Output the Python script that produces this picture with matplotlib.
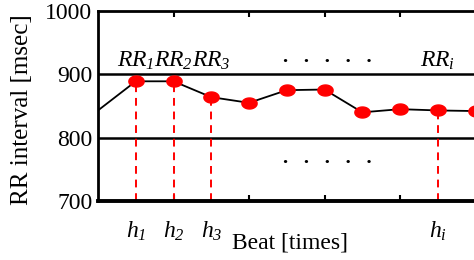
import numpy as np
import matplotlib
matplotlib.use("Agg")
import matplotlib.pyplot as plt

# data
beats = [0, 1, 2, 3, 4, 5, 6, 7, 8, 9, 10]
rr_values = [843, 889, 889, 864, 855, 875, 876, 840, 845, 843, 842]
marked_beats = [1, 2, 3, 9]          # beats with red dashed lines
rr_labels = ["$RR_{1}$", "$RR_{2}$", "$RR_{3}$", "$RR_{i}$"]
h_labels = ["$h_{1}$", "$h_{2}$", "$h_{3}$", "$h_{i}$"]
y_ticks = [700, 800, 900, 1000]

plt.rcParams["font.family"] = ["Liberation Serif"]
# all math text in this chart is italic, digits included
plt.rcParams["mathtext.fontset"] = "custom"
plt.rcParams["mathtext.rm"] = "Liberation Serif:italic"
plt.rcParams["mathtext.it"] = "Liberation Serif:italic"

W, H = 474, 260
fig = plt.figure(figsize=(W / 100, H / 100), dpi=100)
ax = fig.add_axes([98 / W, 59 / H, 376 / W, 190 / H])

ax.set_xlim(0, 376 / 37.75)
ax.set_ylim(700, 1000)

# horizontal reference lines
for yv in [800, 900]:
    ax.axhline(yv, color="black", lw=1.8, zorder=1)

# red dashed drop lines
for b in marked_beats:
    ax.plot([b, b], [700, rr_values[b]], color="red", ls=(0, (4, 3)), lw=1.4, zorder=2)

# ellipse marker
t = np.linspace(0, 2 * np.pi, 40)
ell = list(zip(np.cos(t), 0.72 * np.sin(t)))
ax.plot(beats, rr_values, color="black", lw=1.3, zorder=3)
ax.plot(beats[1:], rr_values[1:], ls="none", marker=ell, markersize=11,
        color="red", markeredgecolor="red", zorder=4)

# spines
ax.spines["right"].set_visible(False)
ax.spines["top"].set_linewidth(2)
ax.spines["left"].set_linewidth(2)
ax.spines["bottom"].set_linewidth(2.8)

ax.set_yticks(y_ticks)
ax.set_yticklabels([str(v) for v in y_ticks], fontsize=17)
ax.tick_params(axis="y", length=0, pad=4)
ax.set_xticks([2, 4, 6, 8])
ax.set_xticklabels([])
ax.tick_params(axis="x", direction="in", length=4, width=1.5, top=True, bottom=True)

# RR labels above the 900 line
for b, lab in zip(marked_beats, rr_labels):
    ax.text(b, 903, lab, fontsize=17, ha="center", va="bottom")

# h labels below the axis
for b, lab in zip(marked_beats, h_labels):
    ax.text(b, -0.16, lab, fontsize=17, ha="center", va="center",
            transform=ax.get_xaxis_transform(), clip_on=False)

# dotted ellipsis
for yv in [928, 768]:
    ax.text(6.07, yv, ".   .   .   .   .", fontsize=15, fontweight="bold",
            ha="center", va="center")

fig.text(290 / W, 1 - 243 / H, "Beat [times]", fontsize=17, ha="center", va="center")
fig.text(22 / W, 1 - 110 / H, "RR interval [msec]", fontsize=18, rotation=90,
         ha="center", va="center")

fig.savefig("out.png", dpi=100)
